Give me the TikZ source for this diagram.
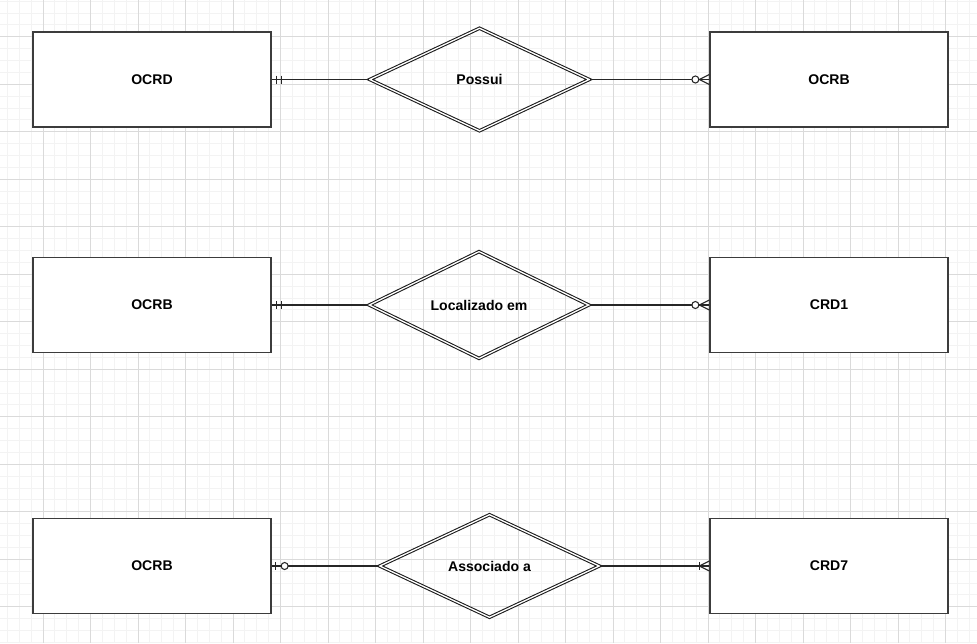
\documentclass[tikz,border=0pt]{standalone}
\usepackage{fontspec}
\setmainfont{Liberation Sans}
\usepackage{xcolor}
\usetikzlibrary{shapes.geometric,calc}

\definecolor{gridminor}{HTML}{F3F3F3}
\definecolor{gridmajor}{HTML}{DADADA}
\definecolor{boxline}{HTML}{3C3C3C}

\begin{document}
\begin{tikzpicture}[x=0.02cm,y=-0.02cm,font=\fontsize{8}{10}\selectfont\bfseries,
  entity/.style={draw=boxline,line width=0.75pt,fill=white,rectangle,
    minimum width=4.76cm,minimum height=1.9cm,inner sep=0pt},
  relation/.style={draw=black!90,double=white,double distance=0.75pt,line width=0.6pt,
    diamond,minimum width=4.4cm,minimum height=2.06cm,inner sep=0pt},
  link/.style={draw=black!85,line width=0.6pt},
  minorline/.style={draw=gridminor,line width=0.5pt},
  majorline/.style={draw=gridmajor,line width=0.5pt}]
  \useasboundingbox (0,0) rectangle (977,643);
  \fill[white] (0,0) rectangle (977,643);
  % background grid
  \begin{scope}
    \clip (0,0) rectangle (977,643);
    \foreach \k in {0,...,81} {\draw[minorline] (7.375+\k*11.875,0) -- ++(0,643);}
    \foreach \k in {0,...,54} {\draw[minorline] (0,1.175+\k*11.875) -- ++(977,0);}
    \foreach \k in {0,...,19} {\draw[majorline] (43+\k*47.5,0) -- ++(0,643);}
    \foreach \k in {0,...,12} {\draw[majorline] (0,36.8+\k*47.5) -- ++(977,0);}
  \end{scope}

  % row 1
  \node[entity] (ocrd) at (152,79.5) {OCRD};
  \node[relation] (possui) at (479.5,79.5) {Possui};
  \node[entity] (ocrb1) at (829,79.5) {OCRB};
  \draw[link] (ocrd.east) -- (possui.west);
  \draw[link] (possui.east) -- (ocrb1.west);
  % exactly one
  \draw[link] ($(ocrd.east)+(5,-4)$) -- ++(0,8) ($(ocrd.east)+(10,-4)$) -- ++(0,8);
  % zero or many
  \draw[link] ($(ocrb1.west)+(0,-5)$) -- ($(ocrb1.west)+(-10,0)$) -- ($(ocrb1.west)+(0,5)$);
  \draw[link,fill=white] ($(ocrb1.west)+(-14,0)$) circle[radius=0.07cm];

  % row 2
  \node[entity] (ocrb2) at (152,305) {OCRB};
  \node[relation] (localizado) at (479,305) {Localizado em};
  \node[entity] (crd1) at (829,305) {CRD1};
  \draw[link] (ocrb2.east) -- (localizado.west);
  \draw[link] (localizado.east) -- (crd1.west);
  \draw[link] ($(ocrb2.east)+(5,-4)$) -- ++(0,8) ($(ocrb2.east)+(10,-4)$) -- ++(0,8);
  \draw[link] ($(crd1.west)+(0,-5)$) -- ($(crd1.west)+(-10,0)$) -- ($(crd1.west)+(0,5)$);
  \draw[link,fill=white] ($(crd1.west)+(-14,0)$) circle[radius=0.07cm];

  % row 3
  \node[entity] (ocrb3) at (152,566) {OCRB};
  \node[relation] (associado) at (489.5,566) {Associado a};
  \node[entity] (crd7) at (829,566) {CRD7};
  \draw[link] (ocrb3.east) -- (associado.west);
  \draw[link] (associado.east) -- (crd7.west);
  % zero or one
  \draw[link] ($(ocrb3.east)+(4,-4)$) -- ++(0,8);
  \draw[link,fill=white] ($(ocrb3.east)+(13,0)$) circle[radius=0.07cm];
  % one or many
  \draw[link] ($(crd7.west)+(-10,-4)$) -- ++(0,8);
  \draw[link] ($(crd7.west)+(0,-5)$) -- ($(crd7.west)+(-10,0)$) -- ($(crd7.west)+(0,5)$);
\end{tikzpicture}
\end{document}
